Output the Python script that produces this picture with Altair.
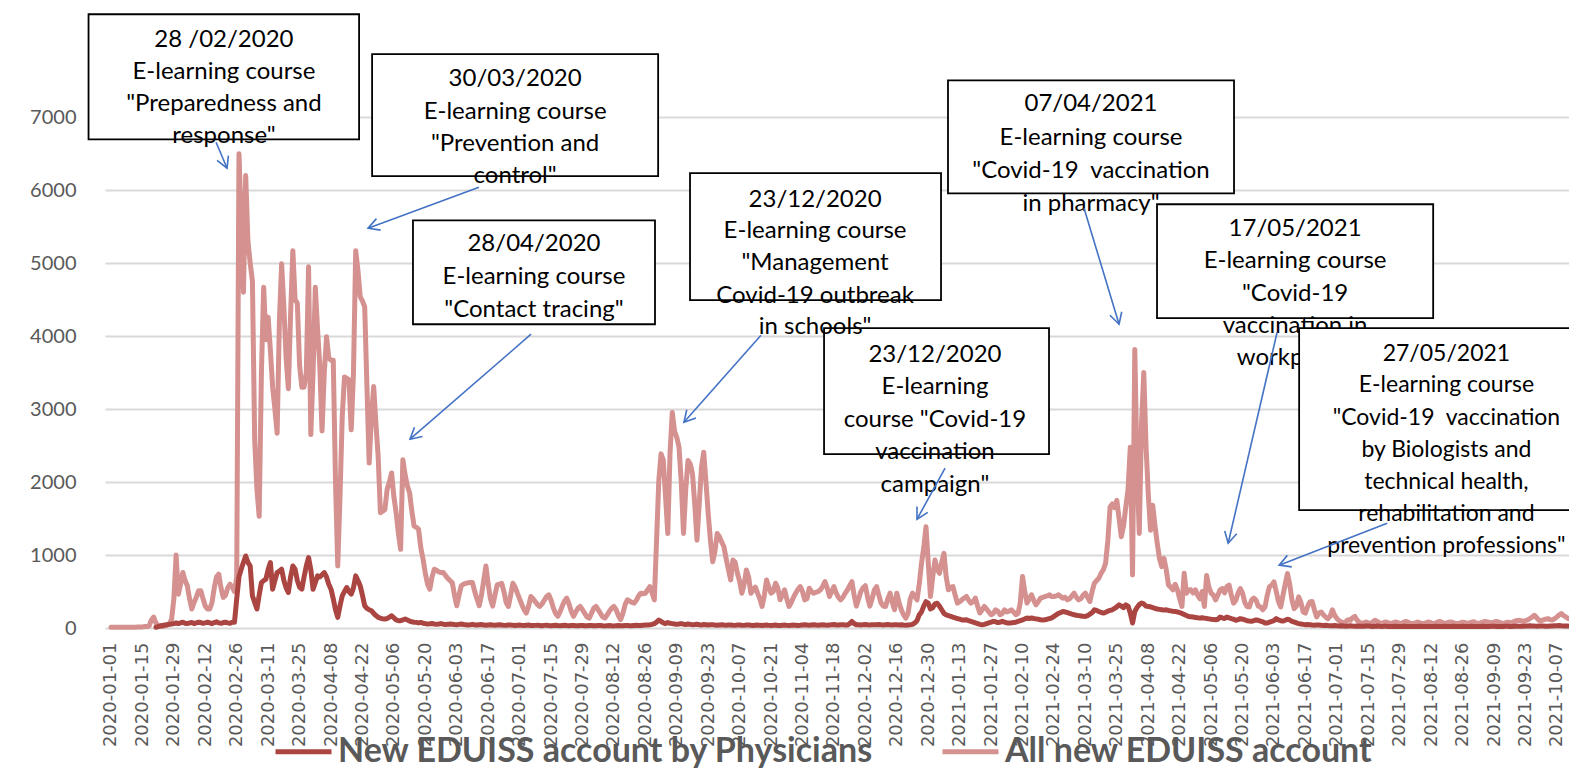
import math
import altair as alt
import pandas as pd

# ---------------- categories (Excel category axis; one calendar day is absent in March 2021)
DATES = [d.strftime("%Y-%m-%d") for d in pd.date_range("2020-01-01", "2021-10-12")
         if d.strftime("%Y-%m-%d") != "2021-03-18"]

# ---------------- series values (one per category)
ALL_NEW = [
    10, 10, 10, 10, 10, 10, 10, 10, 10, 10,
    10, 10, 15, 15, 15, 20, 20, 30, 110, 150,
    70, 30, 20, 20, 30, 40, 60, 120, 400, 1000,
    464, 600, 760, 650, 578, 400, 260, 350, 420, 510,
    510, 400, 300, 260, 260, 350, 550, 700, 737, 550,
    419, 450, 550, 600, 560, 500, 700, 6500, 5600, 4600,
    6200, 5300, 5000, 4750, 2580, 1900, 1530, 3500, 4670, 3950,
    4260, 3800, 3300, 3000, 2670, 4200, 4990, 4400, 3700, 3280,
    4300, 5170, 4500, 4450, 3600, 3300, 3300, 3500, 4950, 2650,
    3500, 4670, 4100, 3600, 2700, 3500, 3990, 3700, 3670, 3670,
    2000, 850, 1800, 2900, 3440, 3420, 3400, 2716, 3500, 5170,
    4900, 4540, 4480, 4400, 3300, 2260, 2900, 3308, 2800, 2350,
    1580, 1600, 1624, 1900, 2000, 2125, 1800, 1579, 1300, 1078,
    2307, 2100, 1950, 1852, 1600, 1397, 1380, 1351, 1100, 942,
    750, 600, 532, 700, 805, 790, 770, 760, 760, 720,
    680, 650, 623, 450, 305, 450, 578, 600, 610, 620,
    623, 623, 500, 400, 305, 450, 650, 850, 600, 400,
    300, 450, 590, 600, 613, 500, 350, 295, 450, 613,
    560, 477, 400, 320, 250, 205, 300, 432, 400, 360,
    320, 295, 330, 380, 430, 455, 380, 280, 200, 160,
    220, 300, 370, 409, 330, 230, 160, 220, 270, 295,
    250, 200, 150, 136, 200, 270, 295, 250, 200, 150,
    136, 180, 230, 270, 295, 250, 170, 114, 200, 320,
    386, 370, 350, 341, 380, 440, 477, 470, 477, 520,
    568, 480, 386, 1200, 2023, 2386, 2300, 1800, 1295, 2400,
    2954, 2700, 2613, 2477, 2000, 1295, 1900, 2295, 2250, 2113,
    1700, 1204, 1700, 2200, 2409, 2000, 1568, 1200, 909, 1050,
    1295, 1250, 1180, 1114, 950, 800, 659, 932, 900, 750,
    640, 477, 600, 795, 700, 477, 520, 560, 477, 400,
    295, 450, 659, 560, 477, 500, 614, 550, 386, 450,
    523, 400, 295, 350, 420, 480, 530, 568, 500, 386,
    400, 545, 500, 477, 490, 500, 523, 570, 636, 550,
    432, 500, 568, 480, 420, 386, 420, 477, 520, 580,
    636, 450, 300, 400, 500, 550, 580, 420, 300, 400,
    523, 568, 450, 341, 300, 295, 400, 477, 350, 250,
    477, 350, 250, 182, 136, 200, 400, 477, 430, 386,
    600, 886, 1100, 1386, 900, 432, 700, 932, 800, 750,
    900, 1023, 700, 523, 560, 568, 450, 341, 360, 386,
    410, 432, 380, 341, 360, 409, 300, 205, 250, 295,
    260, 220, 182, 200, 250, 230, 182, 200, 250, 220,
    230, 250, 220, 182, 200, 350, 705, 500, 341, 400,
    455, 380, 318, 360, 409, 420, 432, 440, 455, 430,
    432, 440, 455, 430, 409, 420, 386, 400, 440, 477,
    420, 386, 400, 450, 477, 420, 364, 500, 614, 650,
    682, 750, 800, 886, 1200, 1659, 1700, 1650, 1750, 1500,
    1250, 1400, 1659, 1900, 2477, 727, 3818, 2204, 1295, 2800,
    3500, 2500, 1840, 1340, 1682, 1400, 1159, 950, 841, 955,
    800, 591, 560, 523, 600, 523, 400, 295, 750, 477,
    520, 523, 480, 523, 450, 400, 500, 295, 720, 560,
    477, 450, 386, 450, 523, 541, 480, 568, 587, 450,
    341, 381, 477, 541, 477, 350, 295, 289, 381, 409,
    381, 300, 289, 250, 289, 450, 568, 587, 633, 500,
    364, 289, 450, 600, 748, 600, 386, 266, 300, 427,
    350, 220, 205, 295, 358, 364, 250, 151, 205, 220,
    182, 150, 128, 160, 250, 174, 130, 100, 83, 68,
    90, 114, 106, 140, 159, 106, 80, 60, 70, 83,
    70, 60, 83, 106, 90, 70, 60, 75, 83, 70,
    60, 70, 83, 75, 60, 65, 83, 90, 75, 60,
    60, 70, 83, 70, 60, 65, 75, 83, 70, 60,
    65, 83, 90, 75, 60, 70, 80, 83, 70, 60,
    60, 70, 80, 75, 65, 70, 80, 85, 70, 65,
    70, 80, 90, 83, 75, 70, 80, 90, 83, 70,
    65, 70, 80, 75, 70, 90, 100, 106, 100, 90,
    100, 110, 130, 150, 174, 140, 106, 100, 110, 120,
    128, 115, 110, 128, 150, 180, 197, 170, 151, 130,
]

PHYS_FIRST = 20  # physicians series starts at DATES[20]
PHYSICIANS = [
    10, 20, 30, 35, 40, 45, 50, 55, 60, 70,
    60, 70, 80, 65, 60, 70, 75, 60, 70, 80,
    75, 65, 70, 80, 70, 60, 75, 85, 70, 65,
    75, 80, 70, 65, 80, 80, 400, 700, 805, 900,
    987, 900, 850, 440, 350, 260, 450, 623, 650, 669,
    800, 896, 532, 650, 760, 780, 805, 650, 550, 487,
    700, 850, 805, 650, 560, 532, 700, 850, 965, 800,
    532, 620, 714, 700, 730, 760, 700, 600, 532, 400,
    250, 146, 300, 441, 500, 555, 500, 464, 550, 714,
    650, 578, 450, 305, 270, 250, 237, 200, 170, 146,
    135, 125, 123, 130, 150, 168, 140, 110, 100, 100,
    110, 123, 110, 95, 85, 80, 77, 70, 77, 65,
    60, 55, 58, 62, 55, 50, 55, 60, 52, 48,
    50, 55, 52, 48, 45, 50, 55, 48, 45, 42,
    45, 50, 42, 40, 45, 48, 40, 38, 42, 45,
    40, 38, 42, 45, 40, 36, 38, 42, 40, 36,
    35, 38, 40, 36, 34, 38, 40, 35, 33, 36,
    38, 35, 32, 36, 38, 34, 32, 35, 37, 33,
    32, 35, 37, 33, 30, 34, 36, 32, 30, 33,
    35, 31, 30, 33, 35, 31, 30, 33, 34, 30,
    29, 32, 34, 30, 29, 32, 35, 31, 30, 34,
    36, 32, 30, 34, 38, 35, 33, 38, 40, 42,
    45, 50, 60, 80, 110, 90, 70, 60, 75, 65,
    60, 55, 50, 55, 60, 52, 48, 55, 50, 45,
    48, 52, 45, 42, 48, 45, 40, 44, 46, 40,
    38, 42, 44, 40, 37, 40, 42, 38, 36, 40,
    42, 38, 36, 40, 42, 37, 35, 38, 40, 36,
    35, 38, 40, 36, 34, 38, 40, 35, 34, 38,
    40, 36, 34, 38, 40, 36, 35, 38, 42, 45,
    40, 38, 42, 45, 40, 38, 42, 45, 40, 38,
    42, 45, 48, 42, 40, 44, 46, 42, 40, 60,
    90, 60, 46, 44, 42, 46, 48, 44, 42, 46,
    44, 46, 48, 44, 42, 45, 47, 44, 42, 45,
    44, 42, 45, 40, 38, 42, 45, 50, 70, 100,
    180, 220, 300, 360, 340, 260, 280, 330, 340, 300,
    250, 200, 180, 170, 160, 150, 140, 130, 120, 110,
    110, 114, 100, 90, 80, 70, 60, 50, 45, 50,
    60, 70, 80, 91, 85, 75, 80, 91, 80, 70,
    68, 70, 75, 80, 90, 100, 110, 125, 136, 130,
    136, 130, 125, 120, 114, 110, 114, 120, 130, 140,
    160, 180, 200, 210, 227, 220, 210, 200, 190, 182,
    175, 170, 165, 160, 159, 170, 190, 210, 250, 240,
    225, 215, 205, 215, 230, 240, 250, 270, 290, 318,
    300, 280, 318, 300, 205, 68, 227, 280, 320, 341,
    330, 300, 295, 290, 280, 270, 260, 255, 250, 245,
    250, 240, 235, 230, 227, 220, 210, 200, 185, 170,
    159, 155, 150, 145, 140, 136, 140, 135, 130, 125,
    120, 118, 114, 120, 151, 140, 130, 151, 140, 128,
    120, 106, 115, 128, 120, 110, 100, 95, 91, 100,
    110, 105, 95, 85, 70, 68, 80, 91, 100, 128,
    110, 100, 95, 106, 120, 110, 90, 83, 70, 60,
    55, 50, 45, 48, 45, 40, 37, 40, 42, 38,
    35, 37, 33, 30, 32, 35, 30, 28, 30, 27,
    25, 28, 30, 26, 24, 27, 25, 23, 25, 28,
    26, 24, 22, 25, 27, 24, 22, 23, 25, 22,
    20, 22, 24, 21, 20, 22, 23, 21, 20, 22,
    21, 20, 22, 23, 21, 20, 22, 21, 20, 22,
    23, 21, 20, 22, 24, 21, 20, 22, 23, 21,
    20, 22, 24, 22, 20, 21, 23, 22, 20, 21,
    22, 24, 22, 20, 21, 23, 24, 22, 21, 20,
    22, 24, 23, 21, 22, 25, 27, 25, 23, 24,
    26, 28, 30, 28, 26, 25, 27, 29, 27, 25,
    24, 26, 28, 30, 32, 34, 30, 28, 27, 26,
]

SERIES = ["New EDUISS account by Physicians", "All new EDUISS account"]
COLORS = ["#AB4542", "#D4918F"]
Y_TICKS = [0, 1000, 2000, 3000, 4000, 5000, 6000, 7000]
TICK_STEP = 14
NB = "\u00a0"  # keeps the double space of the original text boxes

# ---------------- annotations (in category-index / value units)
BOXES = [
    dict(x1=-10.0, x2=110.5, y1=6697, y2=8410, cx=50.3, fs=24,
         lines=[(8054, "28 /02/2020"), (7616, "E-learning course"),
                (7177, "\"Preparedness and"), (6739, "response\"")]),
    dict(x1=116.3, x2=243.7, y1=6192, y2=7864, cx=180.0, fs=24,
         lines=[(7522, "30/03/2020"), (7070, "E-learning course"),
                (6632, "\"Prevention and"), (6193, "control\"")]),
    dict(x1=134.5, x2=242.3, y1=4162, y2=5586, cx=188.4, fs=24,
         lines=[(5259, "28/04/2020"), (4807, "E-learning course"),
                (4355, "\"Contact tracing\"")]),
    dict(x1=317.6, x2=417.8, y1=2382, y2=4108, cx=367.0, fs=24,
         lines=[(3738, "23/12/2020"), (3300, "E-learning"),
                (2847, "course \"Covid-19"), (2409, "vaccination"), (1957, "campaign\"")]),
    dict(x1=257.9, x2=369.7, y1=4492, y2=6232, cx=313.6, fs=24,
         lines=[(5862, "23/12/2020"), (5437, "E-learning course"),
                (4998, "\"Management"), (4546, "Covid-19 outbreak"), (4121, "in schools\"")]),
    dict(x1=372.8, x2=500.2, y1=5957, y2=7505, cx=436.5, fs=24,
         lines=[(7176, "07/04/2021"), (6710, "E-learning course"),
                (6258, "\"Covid-19 " + NB + "vaccination"), (5806, "in pharmacy\"")]),
    dict(x1=465.9, x2=588.9, y1=4245, y2=5807, cx=527.4, fs=24,
         lines=[(5465, "17/05/2021"), (5026, "E-learning course"),
                (4574, "\"Covid-19"), (4136, "vaccination in"), (3698, "workplace\"")]),
    dict(x1=529.2, x2=662.0, y1=1614, y2=4108, cx=594.8, fs=23,
         lines=[(3752, "27/05/2021"), (3328, "E-learning course"),
                (2875, "\"Covid-19 " + NB + "vaccination"), (2437, "by Biologists and"),
                (1998, "technical health,"), (1560, "rehabilitation and"),
                (1121, "prevention professions\"")]),
]
ARROWS = [  # start (x, y) -> tip (x, y)
    (46.8, 6656, 51.7, 6300),
    (163.9, 6038, 114.5, 5478),
    (187.1, 4026, 133.2, 2587),
    (289.5, 4012, 255.2, 2820),
    (371.5, 2191, 359.0, 1491),
    (433.4, 5752, 449.0, 4163),
    (519.4, 4053, 497.6, 1162),
    (568.4, 1436, 520.3, 861),
]

# ---------------- layout
W, H = 1464, 613
X0, X1 = -2.67, 649.4
Y_MAX = 8400
PX_X = W / (X1 - X0)
PX_Y = H / Y_MAX
GREY = "#595959"
BLUE = "#4472C4"
TXT_FONT = "Lato"

tick_idx = list(range(0, len(DATES), TICK_STEP))
tick_lab = [DATES[i] for i in tick_idx]
label_expr = "[" + ",".join("'%s'" % t for t in tick_lab) + "][round(datum.value / %d)]" % TICK_STEP

XSCALE = alt.Scale(domain=[X0, X1], nice=False, zero=False)
YSCALE = alt.Scale(domain=[0, Y_MAX], nice=False, zero=False)
XAXIS = alt.Axis(values=tick_idx, labelExpr=label_expr, labelAngle=-90, title=None,
                 labelFont="DejaVu Sans", labelFontSize=18, labelColor=GREY,
                 labelPadding=14, ticks=False, domain=False, grid=False,
                 labelOverlap=False, labelFlush=False, labelBound=False)
YAXIS = alt.Axis(values=Y_TICKS, format="d", title=None, grid=True, gridColor="#D9D9D9",
                 gridWidth=2, domain=False, ticks=False, labelFont=TXT_FONT,
                 labelFontSize=20, labelColor=GREY, labelPadding=29)


def X(f):
    return alt.X(f + ":Q", scale=XSCALE, axis=XAXIS)


def Y(f):
    return alt.Y(f + ":Q", scale=YSCALE, axis=YAXIS)


COLOR = alt.Color("series:N", scale=alt.Scale(domain=SERIES, range=COLORS),
                  legend=alt.Legend(orient="none", legendX=168, legendY=706,
                                    direction="horizontal", title=None,
                                    symbolType="stroke", symbolSize=3136,
                                    symbolStrokeWidth=5, labelFont=TXT_FONT,
                                    labelFontSize=34, labelFontWeight="bold",
                                    labelColor=GREY, labelLimit=0, labelOffset=4,
                                    columnPadding=58, padding=0))

df_all = pd.DataFrame({"idx": list(range(len(ALL_NEW))), "date": DATES[:len(ALL_NEW)],
                       "value": ALL_NEW, "series": SERIES[1]})
df_phy = pd.DataFrame({"idx": list(range(PHYS_FIRST, PHYS_FIRST + len(PHYSICIANS))),
                       "date": DATES[PHYS_FIRST:PHYS_FIRST + len(PHYSICIANS)],
                       "value": PHYSICIANS, "series": SERIES[0]})

line_style = dict(strokeWidth=5, strokeJoin="round", strokeCap="round")
layers = [
    alt.Chart(df_all).mark_line(**line_style).encode(x=X("idx"), y=Y("value"), color=COLOR),
    alt.Chart(df_phy).mark_line(**line_style).encode(x=X("idx"), y=Y("value"), color=COLOR),
]

for b in BOXES:
    rect_df = pd.DataFrame([dict(x1=b["x1"], x2=b["x2"], y1=b["y1"], y2=b["y2"])])
    layers.append(alt.Chart(rect_df).mark_rect(fill="white", stroke="black", strokeWidth=1.8)
                  .encode(x=X("x1"), x2="x2:Q", y=Y("y1"), y2="y2:Q"))
    txt_df = pd.DataFrame([dict(tx=b["cx"], ty=yy, label=t) for yy, t in b["lines"]])
    layers.append(alt.Chart(txt_df).mark_text(font=TXT_FONT, fontSize=b["fs"], color="black",
                                              align="center", baseline="middle")
                  .encode(x=X("tx"), y=Y("ty"), text="label:N"))

arr_df = pd.DataFrame([dict(sx=a[0], sy=a[1], ex=a[2], ey=a[3]) for a in ARROWS])
arr_df["ang"] = [
    (math.degrees(math.atan2(-(a[3] - a[1]) * PX_Y, (a[2] - a[0]) * PX_X)) + 360) % 360
    for a in ARROWS
]
layers.append(alt.Chart(arr_df).mark_rule(color=BLUE, strokeWidth=1.6)
              .encode(x=X("sx"), y=Y("sy"), x2="ex:Q", y2="ey:Q"))
layers.append(alt.Chart(arr_df).mark_point(shape="M -1 -0.55 L 0 0 L -1 0.55", filled=False,
                                           stroke=BLUE, strokeWidth=1.6, size=500, opacity=1)
              .encode(x=X("ex"), y=Y("ey"), angle=alt.Angle("ang:Q", scale=None)))

chart = alt.layer(*layers).properties(
    width=W, height=H,
    autosize=alt.AutoSizeParams(type="none"),
    padding={"left": 97, "top": 7, "right": 0, "bottom": 143},
    background="white",
).configure_view(stroke=None)

chart.save("out.html", embed_options={"renderer": "svg", "actions": False})
